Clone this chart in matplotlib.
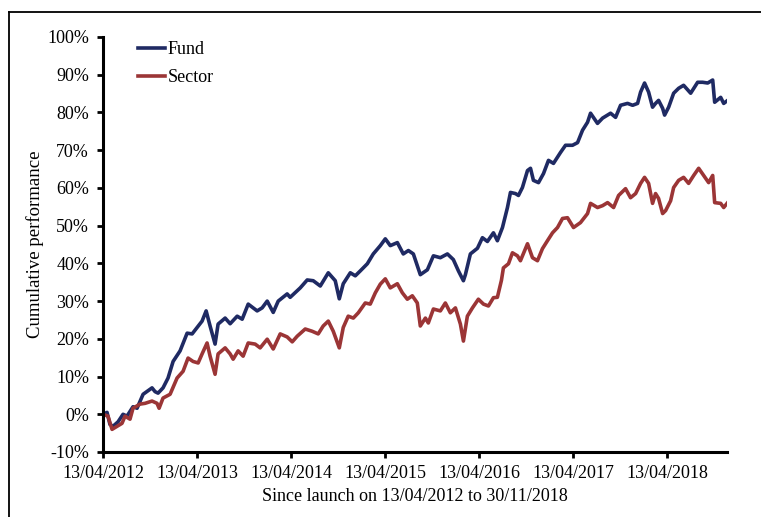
import numpy as np
import pandas as pd
import matplotlib
matplotlib.use("Agg")
import matplotlib.pyplot as plt
from matplotlib.lines import Line2D
from matplotlib.ticker import FuncFormatter

launch = pd.Timestamp("2012-04-13")
end = pd.Timestamp("2018-11-30")

# years since launch / cumulative performance (%)
fund_years = [0, 0.043, 0.074, 0.106, 0.160, 0.213, 0.255, 0.319, 0.362, 0.426, 0.521, 0.553, 0.585,
              0.638, 0.691, 0.745, 0.819, 0.894, 0.947, 1.000, 1.053, 1.096, 1.138, 1.191, 1.223,
              1.298, 1.351, 1.426, 1.479, 1.543, 1.638, 1.691, 1.745, 1.809, 1.862, 1.957, 1.989,
              2.096, 2.170, 2.234, 2.309, 2.394, 2.468, 2.511, 2.553, 2.628, 2.681, 2.734, 2.809,
              2.872, 2.947, 3.000, 3.053, 3.128, 3.191, 3.245, 3.298, 3.372, 3.447, 3.511, 3.585,
              3.660, 3.723, 3.777, 3.830, 3.851, 3.904, 3.979, 4.032, 4.085, 4.149, 4.191, 4.245,
              4.298, 4.330, 4.383, 4.415, 4.457, 4.511, 4.543, 4.574, 4.628, 4.681, 4.734, 4.787,
              4.862, 4.915, 4.989, 5.043, 5.096, 5.149, 5.181, 5.255, 5.309, 5.394, 5.447, 5.500,
              5.574, 5.628, 5.681, 5.713, 5.755, 5.798, 5.840, 5.872, 5.904, 5.947, 5.968, 6.011,
              6.064, 6.117, 6.170, 6.245, 6.319, 6.372, 6.426, 6.479, 6.500, 6.564, 6.596, 6.638]
fund_values = [0, 0.5, -2.7, -3.2, -2.0, 0, -0.5, 2.0, 1.6, 5.3, 7, 6, 5.6,
               7, 9.6, 14, 16.8, 21.5, 21.3, 23, 24.7, 27.4, 23.4, 18.6, 23.9,
               25.5, 24, 26, 25.2, 29.2, 27.4, 28.2, 30, 27, 30, 31.9, 31,
               33.5, 35.6, 35.4, 34, 37.5, 35.4, 30.6, 34.6, 37.5, 36.7, 38, 39.9,
               42.5, 44.7, 46.5, 44.7, 45.5, 42.5, 43.4, 42.5, 37, 38.3, 42, 41.5,
               42.5, 41, 38, 35.4, 37, 42.5, 44, 46.8, 45.8, 48.1, 46, 49.5,
               54.8, 58.8, 58.5, 58, 60.1, 64.6, 65.2, 62, 61.4, 63.8, 67.3, 66.5,
               69.4, 71.3, 71.3, 72, 75.3, 77.4, 79.8, 77.1, 78.5, 79.8, 78.7, 81.9,
               82.4, 81.9, 82.4, 85.4, 87.8, 85.4, 81.4, 82.4, 83.2, 81.1, 79.3, 81.4,
               85.1, 86.4, 87.2, 85.1, 88, 88, 87.8, 88.6, 82.7, 84, 82.4, 83.2]

sector_years = [0, 0.053, 0.096, 0.149, 0.202, 0.234, 0.287, 0.319, 0.394, 0.447, 0.521, 0.574, 0.596,
                0.638, 0.713, 0.787, 0.851, 0.904, 0.957, 1.011, 1.053, 1.106, 1.138, 1.191, 1.223,
                1.298, 1.351, 1.383, 1.436, 1.489, 1.543, 1.617, 1.670, 1.745, 1.809, 1.883, 1.957,
                2.011, 2.064, 2.149, 2.223, 2.287, 2.340, 2.394, 2.447, 2.511, 2.553, 2.606, 2.660,
                2.713, 2.787, 2.840, 2.894, 2.947, 3.000, 3.053, 3.128, 3.181, 3.234, 3.287, 3.340,
                3.372, 3.426, 3.457, 3.511, 3.585, 3.638, 3.691, 3.745, 3.798, 3.830, 3.872, 3.926,
                3.989, 4.043, 4.096, 4.149, 4.191, 4.234, 4.255, 4.309, 4.351, 4.404, 4.436, 4.511,
                4.564, 4.617, 4.670, 4.723, 4.777, 4.830, 4.883, 4.936, 5.000, 5.074, 5.149, 5.181,
                5.255, 5.309, 5.362, 5.426, 5.479, 5.553, 5.606, 5.660, 5.713, 5.755, 5.798, 5.840,
                5.872, 5.904, 5.947, 5.979, 6.032, 6.064, 6.117, 6.170, 6.223, 6.277, 6.330, 6.383,
                6.436, 6.479, 6.500, 6.564, 6.596, 6.638]
sector_values = [0, -0.5, -4, -3.2, -2.4, -0.5, -1.3, 1.6, 2.7, 2.9, 3.5, 2.9, 1.6,
                 4.3, 5.3, 9.6, 11.4, 14.9, 14, 13.6, 16, 18.9, 15.4, 10.6, 16,
                 17.6, 16, 14.6, 16.8, 15.4, 18.9, 18.6, 17.6, 19.9, 17.3, 21.3, 20.5,
                 19.2, 20.7, 22.6, 22, 21.3, 23.4, 24.7, 22, 17.6, 23, 26, 25.5,
                 26.9, 29.5, 29.2, 32.2, 34.5, 35.9, 33.5, 34.6, 32.2, 30.5, 31.4, 29.5,
                 23.4, 25.5, 24.2, 27.9, 27.4, 29.5, 26.9, 28.2, 23.9, 19.4, 26, 28.2,
                 30.5, 29.2, 28.7, 30.9, 31, 35.5, 38.8, 39.9, 42.8, 42, 40.7, 45.2,
                 41.5, 40.7, 43.9, 46, 48.1, 49.5, 51.9, 52.1, 49.5, 50.8, 53.2, 55.9,
                 54.8, 55.3, 56.1, 54.8, 58, 59.8, 57.4, 58.5, 61.2, 62.8, 61.2, 55.9,
                 58.5, 57.2, 53.2, 54, 56.6, 60.1, 62, 62.8, 61.2, 63.3, 65.2, 63.3,
                 61.4, 63.3, 56.1, 55.9, 54.8, 56.1]

tick_years = [2012, 2013, 2014, 2015, 2016, 2017, 2018]
y_ticks = [-10, 0, 10, 20, 30, 40, 50, 60, 70, 80, 90, 100]

def to_dates(years):
    return [launch + pd.Timedelta(days=float(y) * 365.25) for y in years]

plt.rcParams['font.family'] = ['Liberation Serif', 'DejaVu Serif']

fig = plt.figure(figsize=(7.61, 5.17), dpi=100)
ax = fig.add_axes([103/761, 1 - 452/517, (727-103)/761, (452-37)/517])

fund_col = "#1f2a63"
sector_col = "#9b3536"
ax.plot(to_dates(fund_years), fund_values, color=fund_col, lw=2.6, label="Fund")
ax.plot(to_dates(sector_years), sector_values, color=sector_col, lw=2.6, label="Sector")

ax.set_xlim(launch, end)
ax.set_ylim(-10, 100)
ax.set_yticks(y_ticks)
ax.yaxis.set_major_formatter(FuncFormatter(lambda v, p: f"{int(round(v))}%"))
xt = [pd.Timestamp(f"{y}-04-13") for y in tick_years]
ax.set_xticks(xt)
ax.set_xticklabels([f"13/04/{y}" for y in tick_years])

for s in ["top", "right"]:
    ax.spines[s].set_visible(False)
for s in ["left", "bottom"]:
    ax.spines[s].set_linewidth(2.2)
    ax.spines[s].set_color("black")
ax.tick_params(axis="both", direction="out", length=4, width=2, labelsize=13, colors="black")
ax.tick_params(axis="x", pad=5)
ax.tick_params(axis="y", pad=6)

ax.set_ylabel("Cumulative performance", fontsize=13.5, labelpad=2)
ax.set_xlabel("Since launch on 13/04/2012 to 30/11/2018", fontsize=13, labelpad=5)

leg = ax.legend(loc="upper left", bbox_to_anchor=(0.045, 1.007), frameon=False, fontsize=13,
                handlelength=1.5, handletextpad=0.12, labelspacing=0.6, borderaxespad=0)

# outer frame (top and left edges)
fig.add_artist(Line2D([9/761, 9/761], [0, 1 - 12/517], transform=fig.transFigure, color="black", lw=1.3))
fig.add_artist(Line2D([9/761, 1], [1 - 12/517, 1 - 12/517], transform=fig.transFigure, color="black", lw=1.3))

fig.savefig("out.png", dpi=100)
